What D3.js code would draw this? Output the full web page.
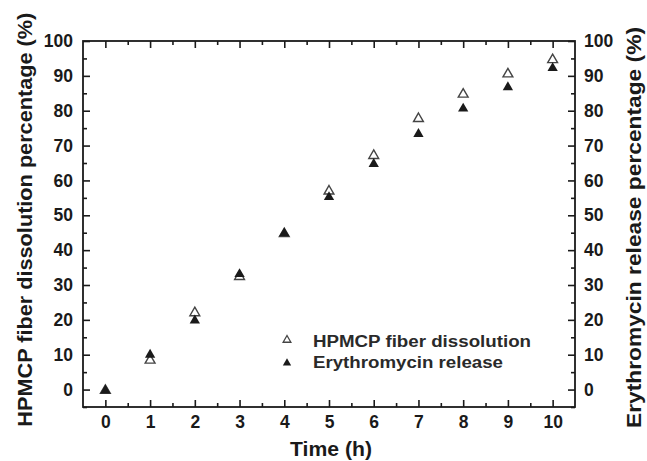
<!DOCTYPE html>
<html><head><meta charset="utf-8">
<script src="https://cdn.jsdelivr.net/npm/d3@7"></script>
<style>body{margin:0;background:#fff}svg{display:block}</style>
</head><body>
<svg id="c" width="647" height="461"></svg>
<script>
const times = [0,1,2,3,4,5,6,7,8,9,10];
const hpmcp = [0,8.7,22.3,32.7,45,57.2,67.4,78,85,90.8,94.9];
const erythro = [0,10.3,20.1,33.4,45.1,55.5,65,73.6,80.9,87,92.5];
const yTicks = [0,10,20,30,40,50,60,70,80,90,100];
const xTicks = [0,1,2,3,4,5,6,7,8,9,10];
const seriesNames = ["HPMCP fiber dissolution","Erythromycin release"];

const svg = d3.select("#c");
const L=83,R=575,T=41,B=407;
const x = d3.scaleLinear().domain([-0.5,10.5]).range([L,R]);
const y = d3.scaleLinear().domain([-5,100]).range([B,T]);
const ink="#1a1a1a";
const font="'Liberation Sans', Arial, sans-serif";

function styleAxis(g){
  g.select(".domain").remove();
  g.selectAll("line").attr("stroke",ink).attr("stroke-width",1.6);
  g.selectAll("text").attr("font-family",font).attr("font-weight","bold").attr("font-size",17.5).attr("fill",ink);
}
const yMinor = d3.range(-5,101,5).filter(v=>v%10!==0);
const xMinor = d3.range(-0.5,10.51,0.5).filter(v=>!Number.isInteger(v)&&v>-0.5&&v<10.5);

// left
svg.append("g").attr("transform",`translate(${L},0)`).call(d3.axisRight(y).tickValues(yMinor).tickSize(4).tickFormat("")).call(styleAxis);
svg.append("g").attr("transform",`translate(${L},0)`).call(d3.axisRight(y).tickValues(yTicks).tickSize(7).tickFormat("")).call(styleAxis);
svg.append("g").attr("transform",`translate(${L},0)`).call(d3.axisLeft(y).tickValues(yTicks).tickSize(0).tickPadding(10)).call(styleAxis);
// right
svg.append("g").attr("transform",`translate(${R},0)`).call(d3.axisLeft(y).tickValues(yMinor).tickSize(4).tickFormat("")).call(styleAxis);
svg.append("g").attr("transform",`translate(${R},0)`).call(d3.axisLeft(y).tickValues(yTicks).tickSize(7).tickFormat("")).call(styleAxis);
svg.append("g").attr("transform",`translate(${R},0)`).call(d3.axisRight(y).tickValues(yTicks).tickSize(0).tickPadding(9)).call(styleAxis);
// bottom
svg.append("g").attr("transform",`translate(0,${B})`).call(d3.axisTop(x).tickValues(xMinor).tickSize(4).tickFormat("")).call(styleAxis);
svg.append("g").attr("transform",`translate(0,${B})`).call(d3.axisTop(x).tickValues(xTicks).tickSize(7).tickFormat("")).call(styleAxis);
svg.append("g").attr("transform",`translate(0,${B})`).call(d3.axisBottom(x).tickValues(xTicks).tickSize(0).tickPadding(9)).call(styleAxis);
// top
svg.append("g").attr("transform",`translate(0,${T})`).call(d3.axisBottom(x).tickValues(xMinor).tickSize(4).tickFormat("")).call(styleAxis);
svg.append("g").attr("transform",`translate(0,${T})`).call(d3.axisBottom(x).tickValues(xTicks).tickSize(7).tickFormat("")).call(styleAxis);

svg.append("rect").attr("x",L).attr("y",T).attr("width",R-L).attr("height",B-T)
  .attr("fill","none").attr("stroke",ink).attr("stroke-width",1.8);

const tri = d3.symbol().type(d3.symbolTriangle);
svg.append("g").selectAll("path").data(times.map((t,i)=>[t,hpmcp[i]])).join("path")
  .attr("d",tri.size(42)()).attr("transform",d=>`translate(${x(d[0])},${y(d[1])+1})`)
  .attr("fill","white").attr("stroke","#444").attr("stroke-width",1.4);
svg.append("g").selectAll("path").data(times.map((t,i)=>[t,erythro[i]])).join("path")
  .attr("d",tri.size(46)()).attr("transform",d=>`translate(${x(d[0])},${y(d[1])+1})`)
  .attr("fill",ink);

// legend
const lg = svg.append("g");
lg.append("path").attr("d",tri.size(26)()).attr("transform","translate(287,340)").attr("fill","white").attr("stroke","#444").attr("stroke-width",1.3);
lg.append("path").attr("d",tri.size(30)()).attr("transform","translate(287,363)").attr("fill",ink);
const legW=[218,190];
lg.selectAll("text").data(seriesNames).join("text")
  .attr("x",313).attr("y",(d,i)=>346.5+i*21.5).text(d=>d)
  .attr("textLength",(d,i)=>legW[i]).attr("lengthAdjust","spacingAndGlyphs")
  .attr("font-family",font).attr("font-weight","bold").attr("font-size",16).attr("fill","#2a2a2a");

// titles
svg.append("text").attr("x",331).attr("y",456).attr("text-anchor","middle").text("Time (h)")
  .attr("textLength",82).attr("lengthAdjust","spacingAndGlyphs")
  .attr("font-family",font).attr("font-weight","bold").attr("font-size",19.5).attr("fill",ink);
svg.append("text").attr("transform",`translate(32,219.7) rotate(-90)`).attr("text-anchor","middle")
  .text("HPMCP fiber dissolution percentage (%)")
  .attr("textLength",414).attr("lengthAdjust","spacingAndGlyphs")
  .attr("font-family",font).attr("font-weight","bold").attr("font-size",19.5).attr("fill",ink);
svg.append("text").attr("transform",`translate(641,227.5) rotate(-90)`).attr("text-anchor","middle")
  .text("Erythromycin release percentage (%)")
  .attr("textLength",401).attr("lengthAdjust","spacingAndGlyphs")
  .attr("font-family",font).attr("font-weight","bold").attr("font-size",19.5).attr("fill",ink);
</script>
</body></html>
